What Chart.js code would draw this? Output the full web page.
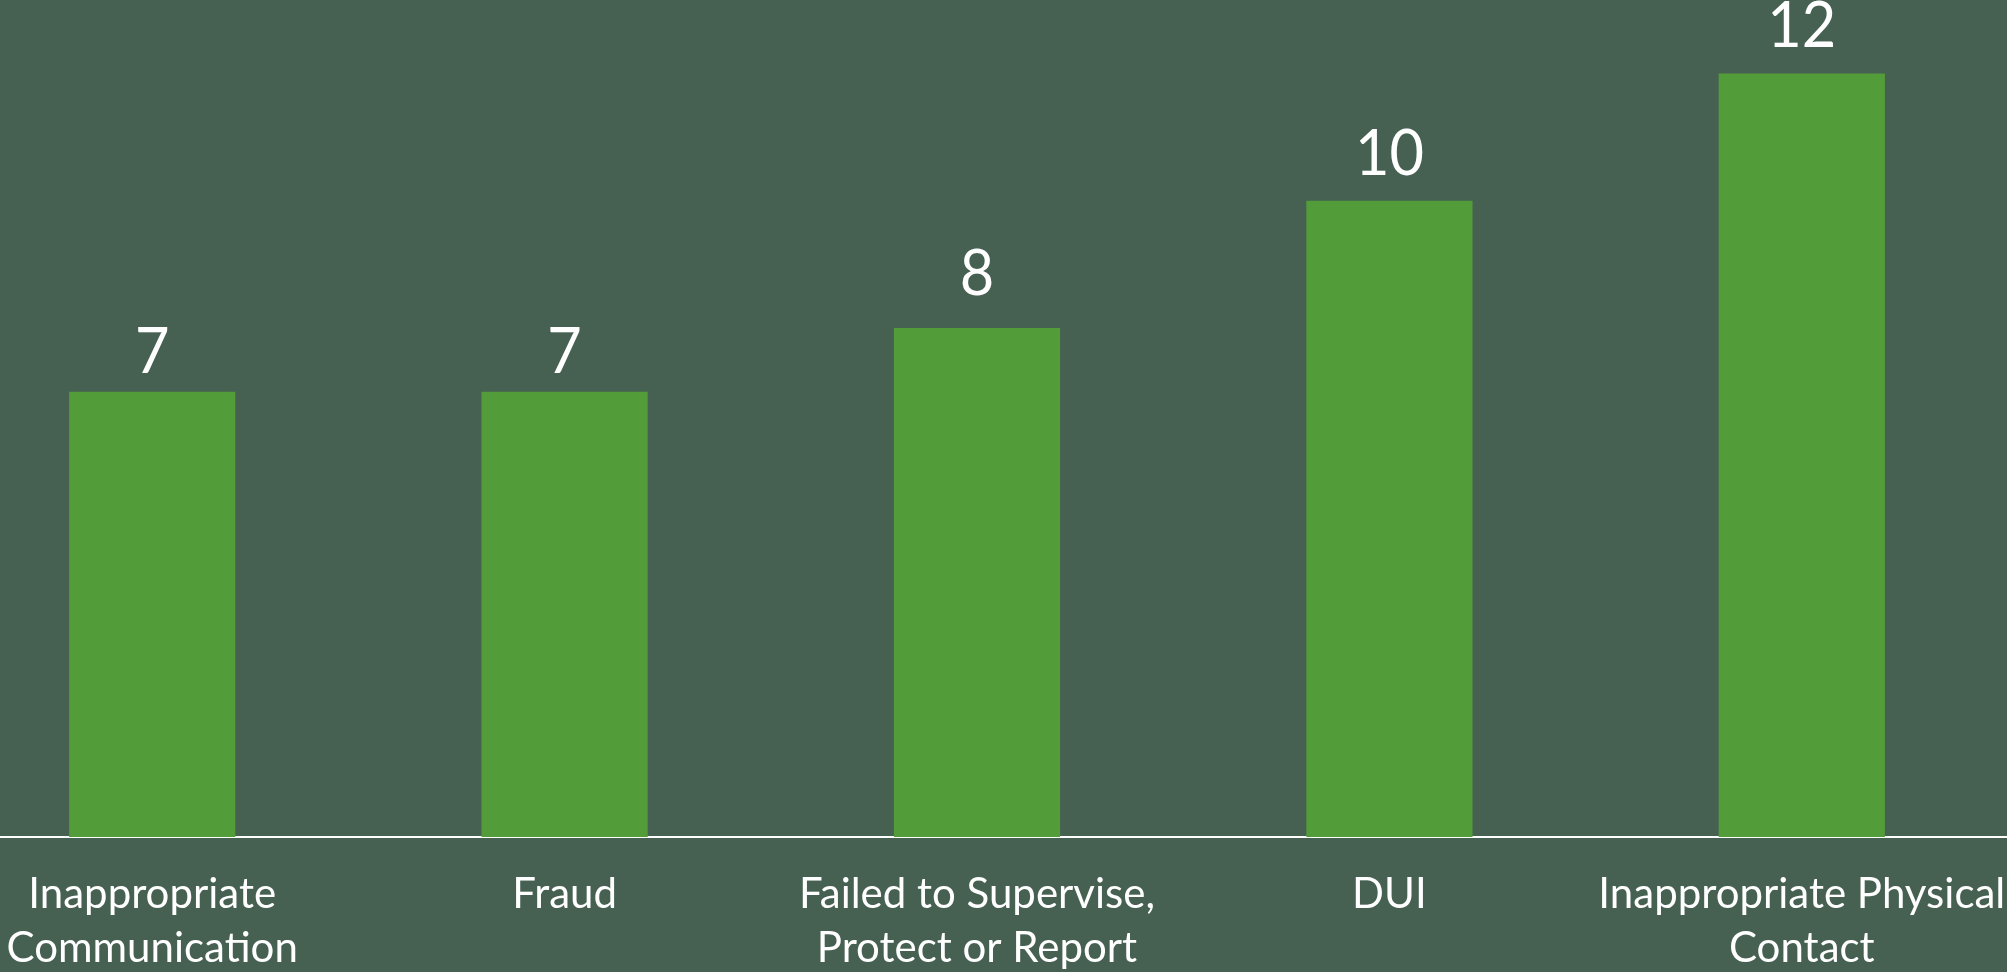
<!DOCTYPE html>
<html>
<head>
<meta charset="utf-8">
<script src="https://cdn.jsdelivr.net/npm/chart.js@4.4.1/dist/chart.umd.min.js"></script>
<style>
    html, body { margin: 0; padding: 0; background: #466152; overflow: hidden; }
    #wrap { position: absolute; left: -54px; top: 0; width: 2062px; height: 972px; }
</style>
</head>
<body>
<div id="wrap"><canvas id="chart"></canvas></div>
<script>
// Categories and counts
const categories = [
    ['Inappropriate', 'Communication'],
    'Fraud',
    ['Failed to Supervise,', 'Protect or Report'],
    'DUI',
    ['Inappropriate Physical', 'Contact']
];
const counts = [7, 7, 8, 10, 12];

// gap between bar top and value label baseline (px); the source font used old-style figures
const labelGaps = [19, 19, 33, 26, 27];

const valueLabels = {
    id: 'valueLabels',
    afterDatasetsDraw(chart) {
        const ctx = chart.ctx;
        const meta = chart.getDatasetMeta(0);
        ctx.save();
        ctx.fillStyle = '#ffffff';
        ctx.font = '64px Lato';
        ctx.textAlign = 'center';
        ctx.textBaseline = 'alphabetic';
        meta.data.forEach((bar, i) => {
            ctx.save();
            ctx.translate(bar.x, bar.y - labelGaps[i]);
            ctx.scale(0.93, 1);
            ctx.fillText(String(counts[i]), 0, 0);
            ctx.restore();
        });
        ctx.restore();
    }
};

window.addEventListener('load', () => {
    const ctx = document.getElementById('chart').getContext('2d');
    new Chart(ctx, {
        type: 'bar',
        data: {
            labels: categories,
            datasets: [{
                data: counts,
                backgroundColor: '#529c3a',
                borderWidth: 0,
                categoryPercentage: 1,
                barPercentage: 0.403
            }]
        },
        options: {
            responsive: true,
            maintainAspectRatio: false,
            animation: false,
            layout: { padding: { top: 10, left: 0, right: 0, bottom: 0 } },
            plugins: {
                legend: { display: false },
                tooltip: { enabled: false }
            },
            scales: {
                x: {
                    afterFit: (scale) => {
                        scale.height = 135;
                        // labels may spill past the edges, as in the source
                        scale.paddingLeft = 0;
                        scale.paddingRight = 0;
                    },
                    grid: { display: false, drawTicks: false },
                    border: { display: true, color: '#ffffff', width: 2 },
                    ticks: {
                        color: '#ffffff',
                        font: { family: 'Lato', size: 42, lineHeight: 1.286 },
                        padding: 30,
                        autoSkip: false,
                        maxRotation: 0,
                        minRotation: 0
                    }
                },
                y: {
                    display: false,
                    min: 0,
                    max: 13
                }
            }
        },
        plugins: [valueLabels]
    });
});
</script>
</body>
</html>
